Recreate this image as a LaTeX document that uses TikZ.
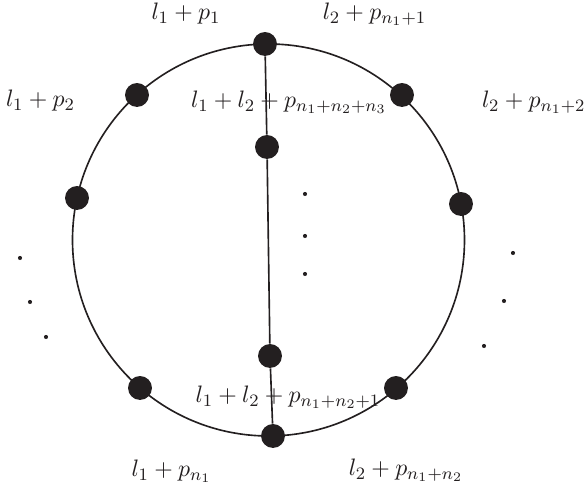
\documentclass[tikz,border=0pt]{standalone}
\usepackage{amsmath}
\definecolor{ink}{RGB}{35,31,32}
\begin{document}
\begin{tikzpicture}[x=0.46pt,y=0.46pt,
  bigdot/.style={circle,fill=ink,draw=none,inner sep=0pt,minimum size=11pt},
  smalldot/.style={circle,fill=ink,draw=none,inner sep=0pt,minimum size=1.9pt},
  lab/.style={inner sep=0pt,anchor=base,text=ink,font=\fontsize{10.95pt}{13pt}\selectfont},
  wire/.style={draw=ink,line width=0.75pt}]
\useasboundingbox (0,0) rectangle (587,494);
% ring
\coordinate (c) at (268.5,254);
\draw[wire] (c) circle[radius=90.16pt];
% vertices
\node[bigdot] (top) at (265,450) {};
\node[bigdot] (ul) at (137,399) {};
\node[bigdot] (ur) at (402,399) {};
\node[bigdot] (lt) at (77,296) {};
\node[bigdot] (rt) at (461,290) {};
\node[bigdot] (ll) at (140,106) {};
\node[bigdot] (lr) at (396,106) {};
\node[bigdot] (bot) at (273,58) {};
\node[bigdot] (iu) at (267,347) {};
\node[bigdot] (il) at (270,138) {};
% chord
\draw[wire] (top) -- (iu);
\draw[wire] (iu) -- (il);
\draw[wire] (il) -- (bot);
% ellipsis dots
\node[smalldot] (d1) at (20,236) {};
\node[smalldot] (d2) at (30,192) {};
\node[smalldot] (d3) at (46,157) {};
\node[smalldot] (d4) at (513,241) {};
\node[smalldot] (d5) at (504,193) {};
\node[smalldot] (d6) at (484,148) {};
\node[smalldot] (d7) at (305,300) {};
\node[smalldot] (d8) at (305,258) {};
\node[smalldot] (d9) at (305,220) {};
% labels
\node[lab] (la) at (186,474) {$l_1+p_1$};
\node[lab] (lb) at (374.5,474) {$l_2+p_{n_1+1}$};
\node[lab] (lc) at (40.5,387) {$l_1+p_2$};
\node[lab] (ld) at (289,386) {$l_1+l_2+p_{n_1+n_2+n_3}$};
\node[lab,anchor=base east] (le) at (586,386) {$l_2+p_{n_1+2}$};
\node[lab] (lf) at (288,91) {$l_1+l_2+p_{n_1+n_2+1}$};
\node[lab] (lg) at (171.5,17) {$l_1+p_{n_1}$};
\node[lab] (lh) at (406,18) {$l_2+p_{n_1+n_2}$};
\end{tikzpicture}
\end{document}
